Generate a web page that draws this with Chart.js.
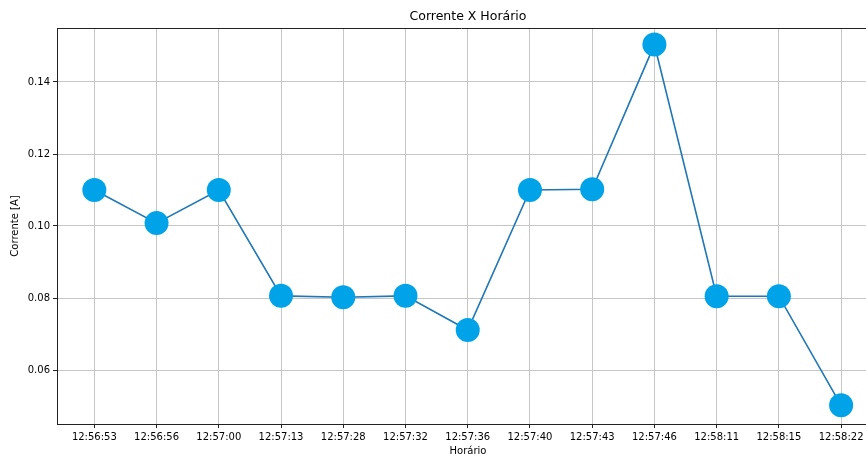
<!DOCTYPE html>
<html>
<head>
<meta charset="utf-8">
<script src="https://cdn.jsdelivr.net/npm/chart.js@4/dist/chart.umd.min.js"></script>
<style>
  html, body { margin: 0; padding: 0; overflow: hidden; background: #fff; }
  #box { position: relative; width: 866px; height: 458px; }
  #c { display: block; }
  .rotulo {
    position: absolute; left: 0; width: 866px; box-sizing: border-box;
    padding-left: 70px; text-align: center; color: #000;
    font-family: 'DejaVu Sans', sans-serif;
  }
  #titulo { top: 7px; font-size: 12.5px; line-height: 18px; }
  #eixoX { top: 445px; font-size: 10px; line-height: 12px; }
</style>
</head>
<body>
<div id="box">
  <canvas id="c" width="866" height="458"></canvas>
  <div id="titulo" class="rotulo">Corrente X Horário</div>
  <div id="eixoX" class="rotulo">Horário</div>
</div>
<script>
// Horários das leituras
const horarios = ['12:56:53','12:56:56','12:57:00','12:57:13','12:57:28','12:57:32','12:57:36',
                  '12:57:40','12:57:43','12:57:46','12:58:11','12:58:15','12:58:22'];
// Corrente medida [A]
const corrente = [0.1100, 0.1008, 0.1100, 0.0806, 0.0802, 0.0806, 0.0711,
                  0.1100, 0.1102, 0.1504, 0.0805, 0.0805, 0.0502];
// Marcas do eixo Y
const yTicks = [0.06, 0.08, 0.10, 0.12, 0.14];

const FONT = "'DejaVu Sans', sans-serif";
const GRID = '#c6c6c6';
const AXIS = '#222222';

// Moldura superior do gráfico
const topFrame = {
  id: 'topFrame',
  afterDraw(chart) {
    const { ctx, chartArea } = chart;
    ctx.save();
    ctx.strokeStyle = AXIS;
    ctx.lineWidth = 1;
    ctx.beginPath();
    ctx.moveTo(chartArea.left, Math.round(chartArea.top) + 0.5);
    ctx.lineTo(chartArea.right, Math.round(chartArea.top) + 0.5);
    ctx.stroke();
    ctx.restore();
  }
};

new Chart(document.getElementById('c'), {
  type: 'line',
  data: {
    datasets: [{
      data: corrente.map((v, i) => ({ x: i, y: v })),
      borderColor: '#1f77b4',
      borderWidth: 1.6,
      pointRadius: 12,
      pointHoverRadius: 12,
      pointBackgroundColor: '#00a2e8',
      pointBorderWidth: 0,
      tension: 0,
      fill: false,
      clip: false
    }]
  },
  options: {
    responsive: false,
    animation: false,
    devicePixelRatio: 1,
    events: [],
    layout: { autoPadding: false, padding: { left: 0, top: 28, bottom: 0, right: 0 } },
    plugins: {
      legend: { display: false },
      tooltip: { enabled: false },
      title: { display: false }
    },
    scales: {
      x: {
        type: 'linear',
        // the visible window stops short of the right margin
        min: -0.6,
        max: 12.4,
        afterBuildTicks: (s) => { s.ticks = horarios.map((_, i) => ({ value: i })); },
        afterFit: (s) => { s.height = 34; s.paddingLeft = 0; s.paddingRight = 0; },
        ticks: {
          autoSkip: false,
          maxRotation: 0,
          padding: 3,
          color: '#000',
          font: { family: FONT, size: 10 },
          callback: (v) => horarios[v]
        },
        grid: { color: GRID, lineWidth: 1, tickLength: 4, tickColor: AXIS, tickWidth: 1 },
        border: { display: true, color: AXIS, width: 1 },
        title: { display: false }
      },
      y: {
        type: 'linear',
        min: 0.045,
        max: 0.155,
        afterBuildTicks: (s) => { s.ticks = yTicks.map(v => ({ value: v })); },
        afterFit: (s) => { s.width = 57; },
        ticks: {
          padding: 3,
          color: '#000',
          font: { family: FONT, size: 10 },
          callback: (v) => Number(v).toFixed(2)
        },
        grid: { color: GRID, lineWidth: 1, tickLength: 4, tickColor: AXIS, tickWidth: 1 },
        border: { display: true, color: AXIS, width: 1 },
        title: {
          display: true,
          text: 'Corrente [A]',
          color: '#000',
          font: { family: FONT, size: 10 },
          padding: { top: 9, bottom: 0 }
        }
      }
    }
  },
  plugins: [topFrame]
});
</script>
</body>
</html>
